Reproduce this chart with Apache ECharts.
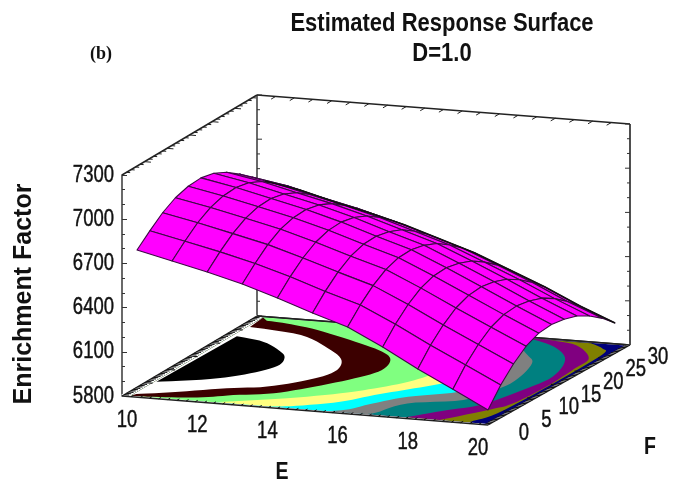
<!DOCTYPE html>
<html><head><meta charset="utf-8">
<style>html,body{margin:0;padding:0;background:#fff}#c{width:673px;height:483px}</style>
<script src="https://cdn.jsdelivr.net/npm/echarts@6/dist/echarts.min.js"></script>
</head><body><div id="c"></div>
<script>
// ---- data ----
const eValues = [10,11,12,13,14,15,16,17,18,19,20];
const fValues = [0,3,6,9,12,15,18,21,24,27,30];
// enrichment factor, one list per E value, across fValues
const zAtE10 = [6730,6811,6885,6938,6967,6975,6958,6916,6854,6786,6710];
const zAtE11 = [6681,6766,6843,6897,6927,6936,6919,6879,6818,6751,6674];
const zAtE12 = [6632,6720,6795,6850,6880,6887,6868,6828,6767,6697,6619];
const zAtE13 = [6577,6667,6746,6802,6831,6838,6820,6780,6719,6650,6570];
const zAtE14 = [6507,6602,6681,6739,6771,6778,6760,6722,6663,6593,6514];
const zAtE15 = [6431,6529,6611,6670,6702,6708,6690,6654,6595,6526,6445];
const zAtE16 = [6362,6463,6545,6605,6637,6642,6623,6587,6528,6459,6376];
const zAtE17 = [6252,6358,6443,6505,6539,6545,6527,6494,6437,6368,6286];
const zAtE18 = [6129,6241,6329,6396,6433,6442,6427,6396,6343,6276,6196];
const zAtE19 = [6017,6133,6223,6291,6328,6337,6323,6293,6241,6173,6093];
const zAtE20 = [5902,6023,6116,6188,6228,6238,6225,6198,6149,6084,6004];
const eTicks = [10,12,14,16,18,20];
const fTicks = [0,5,10,15,20,25,30];
const zTicks = [5800,6100,6400,6700,7000,7300];
// contour band outlines on the floor, as [E,F]
const bandNavy   = [[19.9,0.3],[19.9,29.7]];
const bandOlive  = [[19.47,0.4],[19.47,1],[19.73,4.1],[19.8,15],[19.75,26],[19.5,28.1],[19,29.6]];
const bandPurple = [[18.6,0.4],[18.7,0.8],[19.4,5.2],[19.68,7.7],[19.77,14.1],[19.68,20.9],[19.58,24.6],[18.74,28.55],[17.85,29.6]];
const bandTeal   = [[17.7,0.4],[17.83,1],[18.4,3.9],[18.97,6.4],[19.35,12.4],[19.5,17.55],[19.1,23.35],[18.4,27.05],[17.55,29.2],[16.9,29.7]];
const bandGray   = [[16.6,0.4],[16.8,1.2],[17.16,5],[18.35,7.6],[18.73,12.3],[18.75,16.15],[18.45,21.45],[18,24.05],[17.1,27.9],[15.9,29.7]];
const bandCyan   = [[15.6,0.4],[16,1.6],[16.35,4.2],[16.9,7.2],[17.9,10.2],[18.2,15],[17.5,22],[16.5,27],[15.2,29.7]];
const bandYellow = [[14,0.4],[14.6,1.3],[15.48,3.8],[16.02,6.9],[16.6,9.7],[17.15,12.5],[17.5,16],[17,22],[15.5,27],[14.3,29.7]];
const bandGreen  = [[12.5,0.4],[14.06,3.55],[15.14,6.6],[15.74,9.1],[16.28,12.2],[16.5,16],[16,23],[15,27],[13.2,29.7]];
const bandBrown  = [[10.3,0.3],[11.1,0.74],[12,1.7],[12.64,3.2],[13.54,4.9],[14.23,8.1],[14.86,11.9],[15.16,15.3],[14.95,18.9],[14.42,21.4],[13.37,24],[12,26.9],[11,28.3],[10.42,28.7]];
const bandWhite  = [[10.27,1],[11.2,2.9],[12.2,5.3],[13.1,6.9],[13.8,10.1],[14.1,13.6],[13.79,17.6],[13,21.1],[11.81,24.8],[10.27,26.2]];
const bandBlack  = [[10.25,5.6],[11.43,7.9],[12.16,10.85],[12.5,14],[12.36,16.7],[12,18.8],[11.2,21.6],[10.33,22.8]];

// ---- layout ----
const zRows = [zAtE10,zAtE11,zAtE12,zAtE13,zAtE14,zAtE15,zAtE16,zAtE17,zAtE18,zAtE19,zAtE20];
const floorCorners = [[122,396],[488,425],[630,345],[257,316]];
const meshCorners  = [[137,387],[488,425],[615,353],[265,315]];
const eLabelLine = [[127,420],[478,448]];
const fLabelLine = [[524,433],[658,357]];
const zMin = 5800, zMax = 7300, zPixels = 221;
const bandColors = ['#00007a','#808000','#800080','#008080','#808080','#00ffff','#ffff80','#80ff80','#3c0000','#ffffff','#000000'];
const bands = [bandNavy,bandOlive,bandPurple,bandTeal,bandGray,bandCyan,bandYellow,bandGreen,bandBrown,bandWhite,bandBlack];
const edgeE = 10.2, edgeFlo = 0.3, edgeFhi = 29.7;

function bilinear(c,E,F){
  const a=(E-10)/10,b=F/30;
  return [
    c[0][0]*(1-a)*(1-b)+c[1][0]*a*(1-b)+c[2][0]*a*b+c[3][0]*(1-a)*b,
    c[0][1]*(1-a)*(1-b)+c[1][1]*a*(1-b)+c[2][1]*a*b+c[3][1]*(1-a)*b];
}
function project(c,E,F,Z){
  const p=bilinear(c,E,F);
  return [p[0],p[1]-(Z-zMin)*zPixels/(zMax-zMin)];
}
const lineStyleOf=(stroke,w)=>({stroke,lineWidth:w,fill:null});
// rounds the drawn outline between the read points
function rounded(pts){
  const out=[];
  for(let i=0;i<pts.length-1;i++){
    const p0=pts[Math.max(i-1,0)],p1=pts[i],p2=pts[i+1],p3=pts[Math.min(i+2,pts.length-1)];
    for(let s=0;s<6;s++){
      const t=s/6,t2=t*t,t3=t2*t;
      out.push([0,1].map(k=>0.5*(2*p1[k]+(p2[k]-p0[k])*t+(2*p0[k]-5*p1[k]+4*p2[k]-p3[k])*t2+(3*p1[k]-p0[k]-3*p2[k]+p3[k])*t3)));
    }
  }
  out.push(pts[pts.length-1]);
  return out;
}

// frame: edges and ticks
const frameSegs=[];
function seg(a,b,w,color){frameSegs.push({a,b,w:w||1.5,color:color||'#222'});}
const fl=(E,F,Z)=>project(floorCorners,E,F,Z===undefined?zMin:Z);
seg(fl(10,30),fl(10,30,zMax),1.6,'#444');
seg(fl(20,30),fl(20,30,zMax),1.6,'#222');
seg(fl(10,0,zMax),fl(10,30,zMax));
seg(fl(10,30,zMax),fl(20,30,zMax));
seg(fl(10,30),fl(20,30));
for(let z=zMin;z<=zMax;z+=100){
  const major=(z-zMin)%300===0;
  const l=major?5:3;
  const p=fl(10,30,z); seg(p,[p[0]+l,p[1]],1,'#333');
  const q=fl(20,30,z); seg(q,[q[0]-l,q[1]],1,'#333');
}
for(let F=1;F<30;F++){
  const t=F%5===0?0.35:0.2;
  seg(fl(10,F,zMax),fl(10+t/2,F,zMax),1,'#222');
}
for(let E=10.5;E<20;E+=0.5){
  seg(fl(E,30,zMax),fl(E,29,zMax),1,'#222');
}
// floor outer rim on top of the bands
const rimSegs=[];
function rim(a,b,w,color){rimSegs.push({a,b,w,color});}
rim(fl(10,0),fl(10,30),3,'#ffffff');
rim(fl(20,0),fl(20,30),3,'#ffffff');
rim(fl(10,0),fl(20,0),2,'#ffffff');
rim(fl(10,0),fl(10,30),1.3,'#222');
rim(fl(20,0),fl(20,30),1.3,'#222');
rim(fl(10,0),fl(20,0),1.5,'#222');
rim(fl(10,30),fl(20,30),1.5,'#222');
for(let F=0.5;F<30;F+=0.5){
  const t=F%5===0?0.22:0.13;
  rim(fl(10,F),fl(10+t,F),1.1,'#111');
  rim(fl(20,F),fl(20-t,F),1.1,'#111');
}
for(let E=10.25;E<20;E+=0.25){
  rim(fl(E,0),fl(E,0.55),1,'#111');
}

const cells=[];
for(let j=fValues.length-2;j>=0;j--)for(let i=0;i<eValues.length-1;i++)cells.push([i,j]);

function segSeries(list){
  return {type:'custom',xAxisIndex:0,yAxisIndex:0,coordinateSystem:'cartesian2d',clip:false,silent:true,
    data:list.map((_,k)=>[k,0]),
    renderItem(params,api){
      const s=list[params.dataIndex],a=api.coord(s.a),b=api.coord(s.b);
      return {type:'line',shape:{x1:a[0],y1:a[1],x2:b[0],y2:b[1]},style:lineStyleOf(s.color,s.w)};
    }};
}
const tickLabelFont='18.5px "Liberation Sans"';
function tickText(text,x,y,align){
  return {type:'text',x,y,scaleY:1.28,style:{text,x:0,y:0,font:tickLabelFont,fill:'#111',stroke:'#111',lineWidth:0.35,textAlign:align||'center',textVerticalAlign:'middle'}};
}
const labels=[
  ...eTicks.map(v=>({text:String(v),p:[eLabelLine[0][0]+(eLabelLine[1][0]-eLabelLine[0][0])*(v-10)/10,eLabelLine[0][1]+(eLabelLine[1][1]-eLabelLine[0][1])*(v-10)/10]})),
  ...fTicks.map(v=>({text:String(v),p:[fLabelLine[0][0]+(fLabelLine[1][0]-fLabelLine[0][0])*v/30,fLabelLine[0][1]+(fLabelLine[1][1]-fLabelLine[0][1])*v/30]}))
];

const option={
  animation:false,backgroundColor:'#fff',
  grid:[
    {left:0,top:0,width:673,height:483,show:false},
    {left:122,top:175,width:508,height:221,show:false}
  ],
  xAxis:[
    {gridIndex:0,type:'value',min:0,max:673,show:false},
    {gridIndex:1,type:'value',min:0,max:1,show:false}
  ],
  yAxis:[
    {gridIndex:0,type:'value',min:0,max:483,inverse:true,show:false},
    {gridIndex:1,type:'value',min:zMin,max:zMax,interval:300,splitLine:{show:false},
     axisLine:{show:true,lineStyle:{color:'#444',width:1.6}},
     axisTick:{show:true,inside:true,length:5,lineStyle:{color:'#333',width:1}},
     minorTick:{show:true,splitNumber:3,length:3,lineStyle:{color:'#333',width:1}},
     axisLabel:{show:false}}
  ],
  graphic:[
    {type:'text',x:442,y:24,scaleY:1.14,style:{text:'Estimated Response Surface',font:'bold 22px "Liberation Sans"',fill:'#111',textAlign:'center',textVerticalAlign:'middle'}},
    {type:'text',x:442,y:54,scaleY:1.14,style:{text:'D=1.0',font:'bold 22px "Liberation Sans"',fill:'#111',textAlign:'center',textVerticalAlign:'middle'}},
    {type:'text',x:101,y:54,style:{text:'(b)',font:'bold 18px "Liberation Serif"',fill:'#111',textAlign:'center',textVerticalAlign:'middle'}},
    {type:'text',x:24,y:294,rotation:Math.PI/2,style:{text:'Enrichment Factor',font:'bold 25px "Liberation Sans"',fill:'#111',textAlign:'center',textVerticalAlign:'middle'}},
    {type:'text',x:282,y:473,scaleX:0.85,style:{text:'E',font:'bold 23px "Liberation Sans"',fill:'#111',textAlign:'center',textVerticalAlign:'middle'}},
    {type:'text',x:650,y:448,scaleX:0.85,style:{text:'F',font:'bold 23px "Liberation Sans"',fill:'#111',textAlign:'center',textVerticalAlign:'middle'}}
  ],
  series:[
    segSeries(frameSegs),
    {type:'custom',xAxisIndex:0,yAxisIndex:0,coordinateSystem:'cartesian2d',clip:false,silent:true,
     data:bands.map((_,k)=>[k,0]),
     renderItem(params,api){
       const k=params.dataIndex;
       let pts=rounded(bands[k]);
       if(k<bands.length-1){pts.push([edgeE,edgeFhi]);pts.push([edgeE,edgeFlo]);}
       return {type:'polygon',shape:{points:pts.map(p=>api.coord(fl(p[0],p[1])))},style:{fill:bandColors[k]}};
     }},
    segSeries(rimSegs),
    {type:'custom',xAxisIndex:0,yAxisIndex:0,coordinateSystem:'cartesian2d',clip:false,silent:true,
     data:cells,
     renderItem(params,api){
       const [i,j]=cells[params.dataIndex];
       const v=(a,b)=>api.coord(project(meshCorners,eValues[a],fValues[b],zRows[a][b]));
       return {type:'polygon',shape:{points:[v(i,j),v(i+1,j),v(i+1,j+1),v(i,j+1)]},
         style:{fill:'#ff00ff',stroke:'#3d0a45',lineWidth:1.1,lineJoin:'round'}};
     }},
    {type:'custom',xAxisIndex:0,yAxisIndex:0,coordinateSystem:'cartesian2d',clip:false,silent:true,
     data:[[0,0]],
     renderItem(params,api){
       const pts=eValues.map((E,i)=>api.coord(project(meshCorners,E,30,zRows[i][10])));
       return {type:'polyline',shape:{points:pts},style:lineStyleOf('#111',1.6)};
     }},
    {type:'custom',xAxisIndex:0,yAxisIndex:0,coordinateSystem:'cartesian2d',clip:false,silent:true,
     data:labels.map((_,k)=>[k,0]),
     renderItem(params,api){
       const l=labels[params.dataIndex],p=api.coord(l.p);
       return tickText(l.text,p[0],p[1]);
     }},
    {type:'custom',xAxisIndex:1,yAxisIndex:1,coordinateSystem:'cartesian2d',clip:false,silent:true,
     data:zTicks.map(v=>[0,v]),
     renderItem(params,api){
       const v=api.value(1),p=api.coord([0,v]);
       return tickText(String(v),p[0]-8,p[1],'right');
     }}
  ]
};
echarts.init(document.getElementById('c'),null,{renderer:'canvas'}).setOption(option);
</script></body></html>
